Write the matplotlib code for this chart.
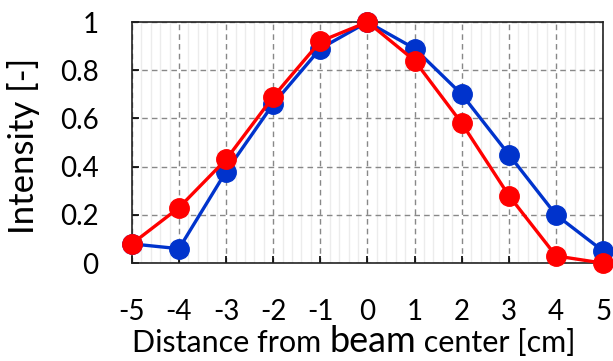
import numpy as np
import matplotlib
matplotlib.use("Agg")
from matplotlib import pyplot as plt
from matplotlib.ticker import MultipleLocator
from matplotlib.transforms import offset_copy

plt.rcParams["font.family"] = ["Lato", "DejaVu Sans"]
plt.rcParams["axes.unicode_minus"] = False

distance = [-5, -4, -3, -2, -1, 0, 1, 2, 3, 4, 5]
blue_vals = [0.08, 0.06, 0.38, 0.66, 0.89, 1.0, 0.89, 0.70, 0.45, 0.20, 0.05]
red_vals = [0.08, 0.23, 0.43, 0.69, 0.92, 1.0, 0.84, 0.58, 0.28, 0.03, 0.0]

fig = plt.figure(figsize=(6.13, 3.61), dpi=100)
ax = fig.add_axes([0.215, 0.271, 0.769, 0.668])

ax.plot(distance, blue_vals, color="#0033cc", lw=2.4, marker="o", ms=14, clip_on=False, zorder=3)
ax.plot(distance, red_vals, color="#ff0000", lw=2.4, marker="o", ms=14, clip_on=False, zorder=4)

ax.set_xlim(-5, 5)
ax.set_ylim(0, 1)
ax.xaxis.set_major_locator(MultipleLocator(1))
ax.xaxis.set_minor_locator(MultipleLocator(0.2))
ax.set_yticks([0, 0.2, 0.4, 0.6, 0.8, 1.0])
ax.set_yticklabels(["0", "0.2", "0.4", "0.6", "0.8", "1"])

ax.grid(which="minor", axis="x", color="#ececec", lw=1.0, ls="-")
ax.grid(which="major", color="#888888", lw=1.0, ls=(0, (4, 3)))
ax.set_axisbelow(True)

ax.tick_params(which="major", direction="in", length=5, width=1.2, labelsize=20)
ax.tick_params(axis="y", pad=24)
ax.tick_params(axis="x", pad=26)
ax.tick_params(which="minor", length=0)
for s in ax.spines.values():
    s.set_linewidth(1.2)
    s.set_color("#222222")

ax.set_ylabel("Intensity [-]", fontsize=25, va="center")
ax.yaxis.set_label_coords(-0.229, 0.485)

# x label with a larger "beam", like the original
y_lab = 0.025
t1 = fig.text(0.2, y_lab, "Distance from ", fontsize=22, ha="left", va="baseline")
fig.canvas.draw()
r = fig.canvas.get_renderer()
w1 = t1.get_window_extent(r).width
t2 = fig.text(0.2, y_lab, "beam", fontsize=26, ha="left", va="baseline",
              transform=offset_copy(fig.transFigure, fig=fig, x=w1, y=0, units="dots"))
w2 = t2.get_window_extent(r).width
t3 = fig.text(0.2, y_lab, " center [cm]", fontsize=22, ha="left", va="baseline",
              transform=offset_copy(fig.transFigure, fig=fig, x=w1 + w2, y=0, units="dots"))
w3 = t3.get_window_extent(r).width
total = w1 + w2 + w3
start = 354 - total / 2
for t in (t1, t2, t3):
    t.set_x(start / fig.bbox.width)

fig.savefig("out.png", dpi=100)
